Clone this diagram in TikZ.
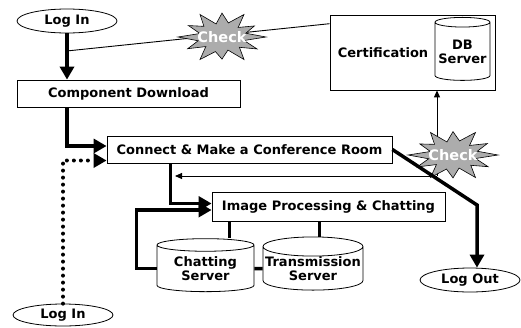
\documentclass[tikz,border=0pt]{standalone}
\usepackage{fontspec}
\setmainfont{DejaVu Sans}
\usetikzlibrary{arrows.meta,shapes.geometric,calc}
\tikzset{
  lbl/.style={font=\fontsize{13}{14}\selectfont\bfseries, inner sep=0pt},
  box/.style={lbl, draw=black, line width=0.8pt, fill=white},
  oval/.style={lbl, ellipse, draw=black, line width=0.8pt, fill=white},
  cyl/.style={lbl, cylinder, shape border rotate=90, aspect=0.2, draw=black, line width=0.8pt, fill=white, align=center},
  heavy/.style={line width=3.5pt},
  heavyarrow/.style={line width=3.5pt, -{Triangle[length=13pt,width=14pt]}},
  dotarrow/.style={line width=4pt, dash pattern=on 0pt off 7pt, line cap=round, -{Triangle[length=13pt,width=14pt,line cap=butt]}},
  thinline/.style={line width=0.9pt},
  thinarrow/.style={line width=0.9pt, -{Triangle[length=7pt,width=6pt]}},
  burst/.style={draw=black, line width=0.6pt, fill=gray!65},
  burstlabel/.style={font=\fontsize{14.5}{15.5}\selectfont\bfseries, text=white, inner sep=1pt}
}
\begin{document}
\begin{tikzpicture}[x=1pt,y=-1pt]
\useasboundingbox (0,0) rectangle (521,327);

% nodes
\node[oval, minimum width=100, minimum height=24] (login1) at (67,21) {Log In};
\node[box, minimum width=223, minimum height=27] (comp) at (128.5,93.5) {Component Download};
\node[box, minimum width=285, minimum height=27] (conn) at (249.5,149.5) {Connect \& Make a Conference Room};
\node[box, minimum width=233, minimum height=29] (img) at (328.5,206.5) {Image Processing \& Chatting};
\node[box, minimum width=165, minimum height=75] (cert) at (412.5,52.5) {};
\node[lbl] (certt) at (383,53) {Certification};
\node[cyl, minimum width=55, minimum height=63] (db) at (462.5,51.5) {DB\\Server};
\node[cyl, minimum width=97, minimum height=53] (chat) at (205.5,268.5) {Chatting\\Server};
\node[cyl, minimum width=100, minimum height=53] (trans) at (313,268.5) {Transmission\\Server};
\node[oval, minimum width=100, minimum height=22] (login2) at (63,315) {Log In};
\node[oval, minimum width=100, minimum height=24] (logout) at (470,280) {Log Out};

% helper coordinates
\coordinate (c1) at ($(login1.south)!0.38!(login1.south |- comp.north)$);
\coordinate (certin) at ($(cert.north west)!0.12!(cert.south west)$);
\coordinate (lp) at (437,176);
\coordinate (la) at (175,176);
\coordinate (drop) at ($(conn.south west)+(64,0)$);
\coordinate (bend) at (477,205);
\coordinate (ic) at ($(img.south west)+(18,0)$);
\coordinate (it) at ($(img.south west)+(108,0)$);

% thin connectors (behind the bursts)
\draw[thinline] (c1) -- (certin);
\draw[thinarrow] (lp) -- (cert.south -| lp);
\draw[thinarrow] (lp) -- (la);

% bursts
\begin{scope}[shift={(222,37)}]
\draw[burst] (0:44 and 26) \foreach \a/\f in {15/.52,30/.92,45/.56,60/1,75/.52,90/.85,105/.58,120/1,135/.52,150/.9,165/.56,180/1,195/.52,210/.88,225/.58,240/1,255/.52,270/.92,285/.56,300/1,315/.52,330/.85,345/.56} { -- (\a:{44*\f} and {26*\f}) } -- cycle;
\end{scope}
\node[burstlabel] (chk1) at (222,37) {Check};
\begin{scope}[shift={(453,155)}]
\draw[burst] (0:45 and 26) \foreach \a/\f in {15/.52,30/.9,45/.56,60/1,75/.52,90/.88,105/.56,120/1,135/.52,150/.92,165/.56,180/1,195/.52,210/.85,225/.58,240/1,255/.52,270/.9,285/.56,300/1,315/.52,330/.88,345/.56} { -- (\a:{45*\f} and {26*\f}) } -- cycle;
\end{scope}
\node[burstlabel] (chk2) at (453,155) {Check};

% heavy connectors
\draw[heavyarrow] (login1.south) -- (login1.south |- comp.north);
\draw[heavyarrow] (comp.south -| login1.south) |- ($(conn.west)+(0,-3.5)$);
\draw[dotarrow] (login2.north) |- ($(conn.west)+(0,11)$);
\draw[heavyarrow] (drop) |- ($(img.west)+(0,-3)$);
\draw[heavyarrow] (chat.west) -- ++(-20,0) |- ($(img.west)+(0,3.5)$);
\draw[line width=2.5pt] (ic) -- (ic |- chat.north);
\draw[line width=2.5pt] (it) -- (it |- trans.north);
\draw[heavy] (chat.east) -- (trans.west);
\draw[heavyarrow] (conn.east) -- (bend) -- (bend |- logout.north);
\end{tikzpicture}
\end{document}
